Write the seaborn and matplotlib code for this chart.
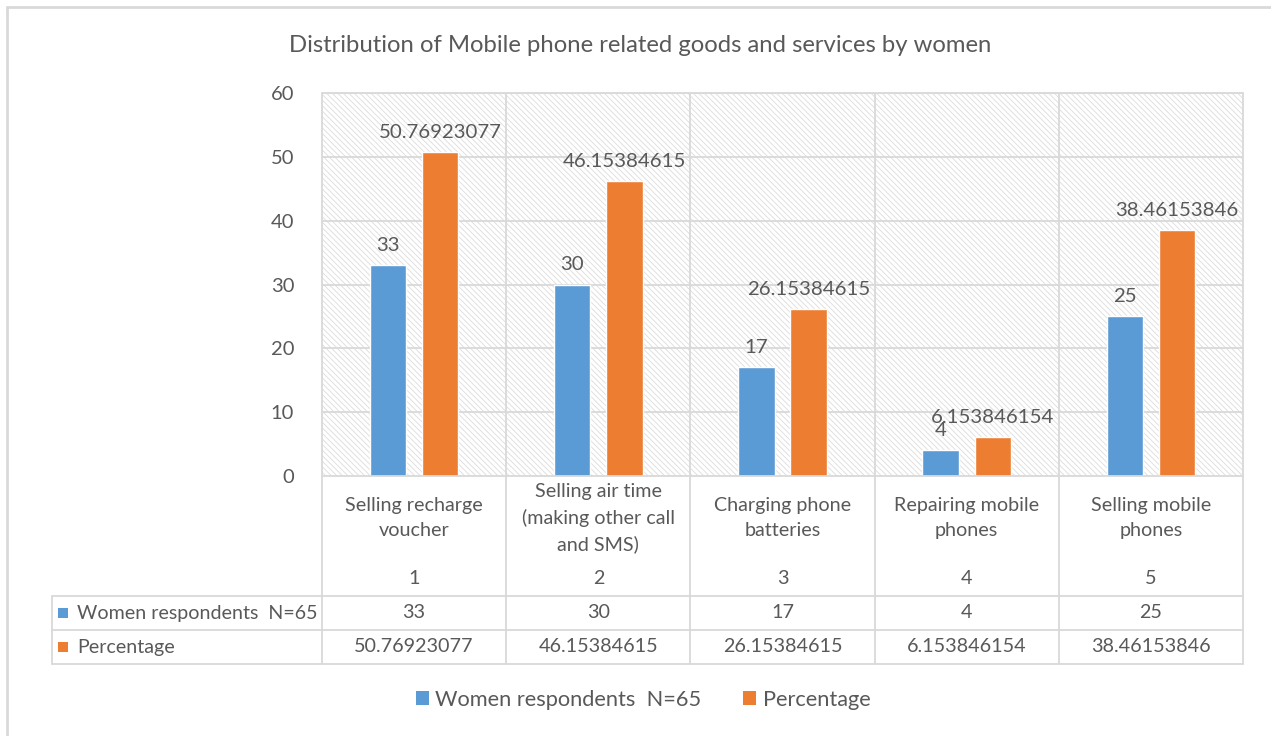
import matplotlib
matplotlib.use('Agg')
import matplotlib.pyplot as plt
import seaborn as sns
import pandas as pd
from matplotlib.patches import Rectangle
from matplotlib.lines import Line2D

# data
categories = ['Selling recharge\nvoucher',
              'Selling air time\n(making other call\nand SMS)',
              'Charging phone\nbatteries',
              'Repairing mobile\nphones',
              'Selling mobile\nphones']
cat_index = ['1', '2', '3', '4', '5']
women = [33, 30, 17, 4, 25]
percentage = [50.76923077, 46.15384615, 26.15384615, 6.153846154, 38.46153846]
series = ['Women respondents  N=65', 'Percentage']
y_ticks = [0, 10, 20, 30, 40, 50, 60]

BLUE = '#5B9BD5'
ORANGE = '#ED7D31'
TXT = '#595959'
GRID = '#D9D9D9'

df = pd.DataFrame({
    'cat': cat_index * 2,
    'series': [series[0]] * len(women) + [series[1]] * len(percentage),
    'value': women + percentage,
})

sns.set_style('white')
plt.rcParams['font.family'] = ['Lato', 'DejaVu Sans']
plt.rcParams['hatch.linewidth'] = 0.6

W, H = 1271, 736
fig = plt.figure(figsize=(W / 100, H / 100), dpi=100)

# plot area in pixel coords: x 322..1243, y 93..476
px0, px1, py0, py1 = 322, 1243, 93, 476
ax = fig.add_axes([px0 / W, 1 - py1 / H, (px1 - px0) / W, (py1 - py0) / H])

sns.barplot(data=df, x='cat', y='value', hue='series', order=cat_index,
            hue_order=series, palette=[BLUE, ORANGE], width=0.565, gap=0.3,
            saturation=1, legend=False, ax=ax, zorder=2)

ax.set_xlim(-0.5, len(cat_index) - 0.5)
ax.set_ylim(0, 60)
ax.set_yticks(y_ticks)
ax.set_yticklabels([str(t) for t in y_ticks], fontsize=14.5, color=TXT)
ax.tick_params(axis='y', length=0, pad=20)
ax.set_xticks([])
ax.set_xlabel('')
ax.set_ylabel('')
for s in ax.spines.values():
    s.set_visible(False)

# hatched background
ax.add_patch(Rectangle((0, 0), 1, 1, transform=ax.transAxes, facecolor='white',
                       edgecolor='#DCDCDC', hatch='\\' * 6, linewidth=0, zorder=0))
for t in y_ticks[1:]:
    ax.axhline(t, color=GRID, lw=1.3, zorder=1)
for i in range(len(cat_index) - 1):
    ax.axvline(i + 0.5, color=GRID, lw=1.3, zorder=1)

# data labels
labels_sets = [[str(v) for v in women], [f'{v:.10g}' for v in percentage]]
for cont, labs in zip(ax.containers, labels_sets):
    ax.bar_label(cont, labels=labs, padding=8, fontsize=14.7, color=TXT)

# overlay in pixel coords for the data table, frame, title and legend
ov = fig.add_axes([0, 0, 1, 1], facecolor='none')
ov.set_xlim(0, W)
ov.set_ylim(H, 0)
ov.axis('off')

def hline(x0, x1, y):
    ov.add_line(Line2D([x0, x1], [y, y], color=GRID, lw=1.3))

def vline(x, y0, y1):
    ov.add_line(Line2D([x, x], [y0, y1], color=GRID, lw=1.3))

# chart frame (cropped)
ov.add_line(Line2D([7, 7], [7, H], color=GRID, lw=2))
ov.add_line(Line2D([7, W], [7, 7], color=GRID, lw=2))

tbl_left = 52
row1, row2, row3 = 596, 630, 664
colw = (px1 - px0) / len(cat_index)
vline(px0, py0, row3)
vline(px1, py0, row3)
hline(px0, px1, py0)
hline(px0, px1, py1)
for i in range(1, len(cat_index)):
    vline(px0 + i * colw, py1, row3)
hline(tbl_left, px1, row1)
hline(tbl_left, px1, row2)
hline(tbl_left, px1, row3)
vline(tbl_left, row1, row3)

for i, (c, n, w, p) in enumerate(zip(categories, cat_index, women, percentage)):
    cx = px0 + (i + 0.5) * colw
    ov.text(cx, 518, c, ha='center', va='center', fontsize=14.2, color=TXT,
            linespacing=1.55)
    ov.text(cx, 578, n, ha='center', va='center', fontsize=14.2, color=TXT)
    ov.text(cx, (row1 + row2) / 2, str(w), ha='center', va='center', fontsize=14.2, color=TXT)
    ov.text(cx, (row2 + row3) / 2, f'{p:.10g}', ha='center', va='center', fontsize=14.2, color=TXT)

for (ry0, ry1), name, col in zip([(row1, row2), (row2, row3)], series, [BLUE, ORANGE]):
    cy = (ry0 + ry1) / 2
    ov.add_patch(Rectangle((58, cy - 5), 10, 10, facecolor=col, edgecolor='none'))
    ov.text(77, cy, name, ha='left', va='center', fontsize=14.1, color=TXT)

# title
ov.text(640, 45, 'Distribution of Mobile phone related goods and services by women',
        ha='center', va='center', fontsize=17.2, color=TXT)

# legend
handles = [Rectangle((0, 0), 1, 1, facecolor=c, edgecolor='none') for c in [BLUE, ORANGE]]
fig.legend(handles, series, loc='center', bbox_to_anchor=(643 / W, 1 - 700 / H),
           ncol=2, frameon=False, fontsize=15.7, labelcolor=TXT,
           handlelength=0.6, handleheight=0.6, handletextpad=0.3, columnspacing=1.9)

fig.savefig('out.png', dpi=100)
